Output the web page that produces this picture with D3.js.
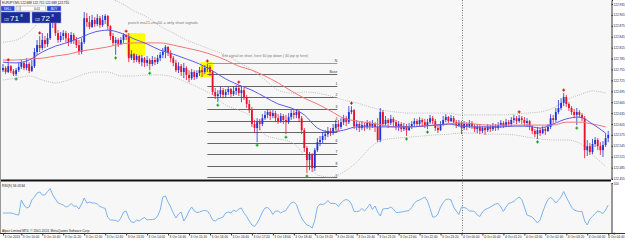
<!DOCTYPE html>
<html><head><meta charset="utf-8">
<script src="https://cdn.jsdelivr.net/npm/d3@7"></script>
<style>
body{margin:0;background:#fff}
svg{display:block;font-family:"Liberation Sans",Arial,sans-serif}
</style></head><body>
<div id="chart"></div>
<script>
// EURJPY M5 bars (one value per bar)
const opens = [122.753,122.759,122.748,122.764,122.751,122.742,122.753,122.762,122.773,122.759,
122.770,122.751,122.764,122.803,122.822,122.814,122.836,122.825,122.841,122.885,
122.891,122.855,122.836,122.847,122.855,122.841,122.830,122.850,122.836,122.822,
122.803,122.830,122.896,122.885,122.872,122.891,122.880,122.896,122.877,122.891,
122.902,122.874,122.847,122.828,122.836,122.825,122.836,122.850,122.844,122.786,
122.797,122.781,122.792,122.775,122.786,122.773,122.781,122.770,122.781,122.775,
122.786,122.795,122.803,122.817,122.800,122.786,122.773,122.753,122.764,122.748,
122.759,122.740,122.731,122.748,122.734,122.745,122.753,122.748,122.759,122.762,
122.748,122.693,122.682,122.687,122.698,122.685,122.693,122.701,122.687,122.696,
122.704,122.690,122.698,122.679,122.660,122.643,122.605,122.594,122.610,122.605,
122.621,122.630,122.638,122.627,122.635,122.621,122.613,122.627,122.616,122.610,
122.624,122.635,122.630,122.638,122.621,122.588,122.539,122.506,122.520,122.484,
122.533,122.555,122.561,122.572,122.577,122.586,122.580,122.594,122.605,122.597,
122.610,122.621,122.610,122.638,122.643,122.599,122.605,122.594,122.602,122.597,
122.608,122.599,122.605,122.597,122.561,122.638,122.605,122.616,122.608,122.619,
122.610,122.597,122.605,122.591,122.599,122.588,122.597,122.605,122.613,122.605,
122.616,122.610,122.602,122.610,122.621,122.613,122.594,122.588,122.605,122.616,
122.624,122.613,122.621,122.610,122.602,122.608,122.594,122.605,122.599,122.608,
122.599,122.591,122.597,122.586,122.594,122.588,122.597,122.591,122.599,122.594,
122.602,122.608,122.599,122.610,122.605,122.616,122.621,122.613,122.621,122.616,
122.608,122.613,122.597,122.586,122.577,122.588,122.580,122.591,122.586,122.597,
122.621,122.616,122.638,122.649,122.663,122.679,122.660,122.649,122.638,122.630,
122.638,122.630,122.621,122.533,122.544,122.528,122.550,122.561,122.544,122.533,
122.547,122.566];
const highs = [122.770,122.764,122.773,122.767,122.756,122.759,122.775,122.781,122.778,122.786,
122.775,122.781,122.814,122.836,122.847,122.855,122.847,122.855,122.905,122.907,
122.896,122.863,122.858,122.863,122.861,122.855,122.858,122.855,122.844,122.836,
122.841,122.913,122.910,122.902,122.905,122.899,122.907,122.902,122.905,122.907,
122.905,122.877,122.855,122.844,122.841,122.844,122.855,122.852,122.855,122.808,
122.800,122.797,122.795,122.795,122.789,122.792,122.786,122.792,122.789,122.795,
122.803,122.814,122.822,122.819,122.808,122.792,122.781,122.775,122.770,122.773,
122.764,122.753,122.756,122.753,122.753,122.762,122.764,122.767,122.770,122.767,
122.753,122.704,122.698,122.707,122.704,122.701,122.707,122.704,122.709,122.712,
122.712,122.709,122.704,122.685,122.671,122.652,122.616,122.621,122.619,122.632,
122.641,122.646,122.643,122.643,122.641,122.632,122.635,122.632,122.630,122.635,
122.643,122.643,122.646,122.643,122.627,122.594,122.544,122.528,122.525,122.539,
122.566,122.572,122.583,122.588,122.597,122.594,122.605,122.616,122.616,122.621,
122.630,122.627,122.654,122.654,122.646,122.616,122.610,122.613,122.608,122.616,
122.613,122.616,122.610,122.621,122.649,122.643,122.627,122.621,122.630,122.624,
122.616,122.613,122.610,122.608,122.605,122.608,122.613,122.621,122.619,122.624,
122.621,122.619,122.619,122.630,122.627,122.619,122.602,122.613,122.627,122.632,
122.627,122.630,122.627,122.616,122.616,122.613,122.613,122.610,122.616,122.613,
122.605,122.605,122.602,122.599,122.599,122.605,122.602,122.608,122.605,122.610,
122.616,122.613,122.619,122.616,122.624,122.630,122.627,122.630,122.627,122.624,
122.621,122.616,122.602,122.591,122.597,122.594,122.599,122.597,122.605,122.632,
122.630,122.649,122.671,122.676,122.690,122.685,122.665,122.654,122.646,122.649,
122.643,122.635,122.627,122.561,122.553,122.564,122.569,122.566,122.555,122.558,
122.580,122.586];
const lows = [122.748,122.742,122.745,122.745,122.737,122.737,122.748,122.756,122.753,122.753,
122.745,122.748,122.759,122.795,122.803,122.808,122.814,122.817,122.836,122.869,
122.847,122.828,122.830,122.836,122.830,122.819,122.825,122.825,122.814,122.795,
122.797,122.825,122.872,122.866,122.869,122.872,122.874,122.869,122.872,122.880,
122.863,122.836,122.822,122.795,122.817,122.822,122.828,122.836,122.775,122.781,
122.773,122.775,122.770,122.764,122.762,122.764,122.753,122.764,122.767,122.770,
122.778,122.786,122.786,122.792,122.775,122.764,122.748,122.745,122.737,122.731,
122.726,122.720,122.726,122.726,122.729,122.737,122.734,122.742,122.748,122.737,
122.685,122.674,122.665,122.679,122.676,122.679,122.685,122.679,122.682,122.685,
122.682,122.665,122.671,122.649,122.635,122.597,122.580,122.555,122.588,122.599,
122.616,122.621,122.616,122.621,122.610,122.605,122.608,122.605,122.577,122.605,
122.616,122.619,122.621,122.610,122.577,122.528,122.470,122.478,122.473,122.476,
122.528,122.544,122.553,122.561,122.569,122.572,122.575,122.588,122.586,122.591,
122.602,122.599,122.605,122.632,122.591,122.588,122.583,122.588,122.586,122.591,
122.588,122.594,122.583,122.555,122.555,122.597,122.599,122.594,122.602,122.599,
122.588,122.586,122.583,122.586,122.572,122.586,122.591,122.599,122.597,122.599,
122.597,122.594,122.591,122.605,122.605,122.586,122.580,122.586,122.599,122.610,
122.608,122.610,122.605,122.594,122.597,122.577,122.588,122.588,122.594,122.591,
122.583,122.580,122.577,122.580,122.575,122.583,122.583,122.586,122.586,122.588,
122.594,122.594,122.597,122.597,122.599,122.608,122.605,122.608,122.605,122.599,
122.597,122.588,122.577,122.569,122.564,122.572,122.577,122.575,122.583,122.591,
122.605,122.610,122.632,122.643,122.654,122.652,122.641,122.630,122.621,122.602,
122.621,122.613,122.511,122.517,122.520,122.522,122.542,122.533,122.520,122.514,
122.542,122.555];
const closes = [122.759,122.748,122.764,122.751,122.742,122.753,122.762,122.773,122.759,122.770,
122.751,122.764,122.803,122.822,122.814,122.836,122.825,122.841,122.885,122.891,
122.855,122.836,122.847,122.855,122.841,122.830,122.850,122.836,122.822,122.803,
122.830,122.896,122.885,122.872,122.891,122.880,122.896,122.877,122.891,122.902,
122.874,122.847,122.828,122.836,122.825,122.836,122.850,122.844,122.786,122.797,
122.781,122.792,122.775,122.786,122.773,122.781,122.770,122.781,122.775,122.786,
122.795,122.803,122.817,122.800,122.786,122.773,122.753,122.764,122.748,122.759,
122.740,122.731,122.748,122.734,122.745,122.753,122.748,122.759,122.762,122.748,
122.693,122.682,122.687,122.698,122.685,122.693,122.701,122.687,122.696,122.704,
122.690,122.698,122.679,122.660,122.643,122.605,122.594,122.610,122.605,122.621,
122.630,122.638,122.627,122.635,122.621,122.613,122.627,122.616,122.610,122.624,
122.635,122.630,122.638,122.621,122.588,122.539,122.506,122.520,122.484,122.533,
122.555,122.561,122.572,122.577,122.586,122.580,122.594,122.605,122.597,122.610,
122.621,122.610,122.638,122.643,122.599,122.605,122.594,122.602,122.597,122.608,
122.599,122.605,122.597,122.561,122.638,122.605,122.616,122.608,122.619,122.610,
122.597,122.605,122.591,122.599,122.588,122.597,122.605,122.613,122.605,122.616,
122.610,122.602,122.610,122.621,122.613,122.594,122.588,122.605,122.616,122.624,
122.613,122.621,122.610,122.602,122.608,122.594,122.605,122.599,122.608,122.599,
122.591,122.597,122.586,122.594,122.588,122.597,122.591,122.599,122.594,122.602,
122.608,122.599,122.610,122.605,122.616,122.621,122.613,122.621,122.616,122.608,
122.613,122.597,122.586,122.577,122.588,122.580,122.591,122.586,122.597,122.621,
122.616,122.638,122.649,122.663,122.679,122.660,122.649,122.638,122.630,122.638,
122.630,122.621,122.533,122.544,122.528,122.550,122.561,122.544,122.533,122.547,
122.566,122.575];

// indicator lines, one reading every 5 bars
const maStep = 5;
const maFast = [122.775,122.773,122.781,122.803,122.819,122.830,122.844,122.858,122.863,122.855,
122.839,122.825,122.808,122.797,122.784,122.770,122.751,122.729,122.712,122.698,
122.679,122.660,122.649,122.630,122.594,122.583,122.588,122.597,122.597,122.597,
122.597,122.597,122.599,122.602,122.605,122.599,122.597,122.597,122.597,122.599,
122.599,122.594,122.605,122.619,122.624,122.605,122.580];
const maSlow = [122.781,122.781,122.784,122.786,122.792,122.797,122.806,122.811,122.817,122.825,
122.828,122.828,122.828,122.822,122.814,122.806,122.795,122.781,122.764,122.753,
122.737,122.718,122.696,122.676,122.660,122.641,122.621,122.613,122.608,122.602,
122.597,122.597,122.599,122.602,122.605,122.608,122.605,122.602,122.602,122.602,
122.602,122.602,122.602,122.610,122.610,122.605,122.597];
const bandUpper = [122.830,122.836,122.858,122.896,122.929,122.946,122.954,122.957,122.952,122.938,
122.916,122.899,122.874,122.855,122.836,122.822,122.808,122.795,122.775,122.753,
122.726,122.698,122.690,122.693,122.690,122.682,122.671,122.663,122.652,122.643,
122.638,122.635,122.635,122.635,122.635,122.630,122.630,122.630,122.630,122.632,
122.635,122.638,122.649,122.671,122.685,122.696,122.690];
const bandLower = [122.726,122.731,122.737,122.726,122.718,122.726,122.740,122.748,122.748,122.737,
122.737,122.740,122.740,122.734,122.720,122.704,122.685,122.657,122.643,122.624,
122.575,122.564,122.555,122.520,122.465,122.459,122.473,122.500,122.539,122.561,
122.566,122.569,122.572,122.575,122.577,122.580,122.580,122.577,122.577,122.575,
122.569,122.564,122.561,122.561,122.553,122.520,122.489];

// RSI(9), one value per bar
const rsi = [40,40,40,40,39,37,36,66,56,50, 52,66,72,80,82,76,76,83,89,76,
68,60,58,56,52,54,59,54,54,48, 58,70,60,62,60,60,58,53,51,49,
31,26,26,25,23,30,42,44,30,22, 21,26,24,28,31,26,27,27,28,34,
46,72,74,62,52,40,30,38,42,24, 32,44,52,44,41,42,44,45,44,37,
26,24,28,30,32,40,42,40,46,43, 48,50,40,33,24,16,13,20,30,42,
50,51,46,37,44,44,40,43,45,54, 60,62,57,42,30,22,16,14,10,25,
52,58,57,59,65,59,59,59,53,60, 65,67,65,58,43,43,44,49,44,50,
58,47,54,42,34,48,49,49,52,48, 41,41,42,43,44,45,51,60,64,66,
69,72,64,49,32,32,38,52,61,67, 68,66,52,44,37,52,51,49,44,44,
43,36,33,42,47,49,52,55,58,59, 52,43,52,59,61,63,68,72,67,52,
36,34,32,26,20,26,42,56,67,71, 67,60,66,72,83,72,62,52,46,44,
43,43,24,16,28,33,39,44,42,39, 46,56];

const sellSignals = [2, 14, 47, 78, 90, 133, 197, 214];
const buySignals = [5, 43, 56, 82, 97, 108, 116, 154, 162, 204, 219];

const priceTicks = [122.935,122.905,122.875,122.845,122.815,122.785,122.755,122.725,122.695,
122.665,122.635,122.605,122.575,122.545,122.515,122.485,122.455];
const timeTickBars = [0,7,15,23,31,39,47,55,63,71,79,87,95,103,111,119,127,135,143,151,159,167,175,183,191,199,207,215,223,231];
const timeLabels = ["3 Oct 2013","3 Oct 10:00","3 Oct 10:40","3 Oct 11:20","3 Oct 12:00","3 Oct 12:40",
"3 Oct 13:20","3 Oct 14:00","3 Oct 14:40","3 Oct 15:20","3 Oct 16:00","3 Oct 16:40","3 Oct 17:20",
"3 Oct 18:00","3 Oct 18:40","3 Oct 19:20","3 Oct 20:00","3 Oct 20:40","3 Oct 21:20","3 Oct 22:00",
"3 Oct 22:40","3 Oct 23:20","4 Oct 00:00","4 Oct 00:40","4 Oct 01:20","4 Oct 02:00","4 Oct 02:40",
"4 Oct 03:20","4 Oct 04:00","4 Oct 04:40"];
const daySeparators = [175];

// drawn objects
const boxes = [{from: 47.2, to: 54.2, top: 122.855, bottom: 122.793},
               {from: 75.2, to: 80.2, top: 122.775, bottom: 122.734}];
const fibFrom = 78, fibTo = 127.6;
const fibLevels = [122.774,122.742,122.710,122.679,122.647,122.614,122.583,122.552,122.522,122.490,122.458];
const fibNames = ["N","Base","1","2","3","4","5","6","7","8","9"];
const notes = [{bar: 47.7, price: 122.880, text: "punch ma21+ma50 = only short signals", size: 4},
               {bar: 83.6, price: 122.790, text: "first signal on short, here 60 pip down ( 40 pip tp here)", size: 3.6}];

const W = 625, H = 240;
const plotR = 611, mainB = 179, rsiT = 182, rsiB = 233;

const x = d3.scaleLinear().domain([0, 231]).range([3, 3 + 2.62 * 231]);
const y = d3.scaleLinear().domain([122.946, 122.946 - 0.00275 * mainB]).range([0, mainB]);
const yr = d3.scaleLinear().domain([0, 100]).range([rsiB, rsiT + 1]);

const svg = d3.select("#chart").append("svg").attr("width", W).attr("height", H);

svg.append("rect").attr("width", W).attr("height", H).attr("fill", "#fff");
svg.append("rect").attr("x", 0).attr("y", 0).attr("width", plotR).attr("height", mainB).attr("fill", "#f7f7f7");
svg.append("rect").attr("x", 0).attr("y", rsiT).attr("width", plotR).attr("height", rsiB - rsiT).attr("fill", "#f7f7f7");

const defs = svg.append("defs");
defs.append("clipPath").attr("id", "mainClip").append("rect").attr("width", plotR).attr("height", mainB);
defs.append("clipPath").attr("id", "rsiClip").append("rect").attr("y", rsiT).attr("width", plotR).attr("height", rsiB - rsiT);

const main = svg.append("g").attr("clip-path", "url(#mainClip)");

// yellow boxes (background objects)
main.selectAll(".box").data(boxes).enter().append("rect")
  .attr("x", d => x(d.from)).attr("width", d => x(d.to) - x(d.from))
  .attr("y", d => y(d.top)).attr("height", d => y(d.bottom) - y(d.top))
  .attr("fill", "#ffff00");

// fibo grid
main.selectAll(".fib").data(fibLevels).enter().append("line")
  .attr("x1", x(fibFrom)).attr("x2", x(fibTo))
  .attr("y1", d => Math.round(y(d)) + 0.5).attr("y2", d => Math.round(y(d)) + 0.5)
  .attr("stroke", (d, i) => i == 0 ? "#999" : "#666").attr("stroke-width", 1);
main.selectAll(".fibtxt").data(fibLevels).enter().append("text")
  .attr("x", x(fibTo)).attr("y", d => y(d) - 0.8)
  .attr("text-anchor", "end").attr("font-size", 3.4).attr("fill", "#333")
  .text((d, i) => fibNames[i]);

// day separator
svg.selectAll(".sep").data(daySeparators).enter().append("line")
  .attr("x1", d => Math.round(x(d)) + 0.5).attr("x2", d => Math.round(x(d)) + 0.5)
  .attr("y1", 0).attr("y2", rsiB)
  .attr("stroke", "#777").attr("stroke-dasharray", "1,1.5");

// bollinger bands
const bandLine = d3.line().x((d, k) => x(k * maStep)).y(d => y(d)).curve(d3.curveMonotoneX);
[bandUpper, bandLower].forEach(b => {
  main.append("path").datum(b).attr("d", bandLine)
    .attr("fill", "none").attr("stroke", "#b5b5b5").attr("stroke-width", 0.9).attr("stroke-dasharray", "1,1.2");
});

// candles
const bull = "#1e34d6", bear = "#e6102a";
const idx = d3.range(closes.length);
const cg = main.append("g");
cg.selectAll(".wick").data(idx).enter().append("line")
  .attr("x1", i => x(i)).attr("x2", i => x(i))
  .attr("y1", i => y(highs[i])).attr("y2", i => y(lows[i]))
  .attr("stroke", i => closes[i] >= opens[i] ? bull : bear).attr("stroke-width", 0.8);
cg.selectAll(".body").data(idx).enter().append("rect")
  .attr("x", i => x(i) - 0.9).attr("width", 1.8)
  .attr("y", i => y(Math.max(opens[i], closes[i])))
  .attr("height", i => Math.max(0.7, Math.abs(y(opens[i]) - y(closes[i]))))
  .attr("fill", i => closes[i] >= opens[i] ? bull : bear);

// moving averages
main.append("path").datum(maSlow).attr("d", bandLine)
  .attr("fill", "none").attr("stroke", "#f27676").attr("stroke-width", 1);
main.append("path").datum(maFast).attr("d", bandLine)
  .attr("fill", "none").attr("stroke", "#5c5ce8").attr("stroke-width", 1);

// signal arrows
const cross = (g, cx, cy, col) => {
  g.append("path").attr("d", `M${cx - 1.5},${cy}H${cx + 1.5}M${cx},${cy - 1.5}V${cy + 1.5}`)
    .attr("stroke", col).attr("stroke-width", 1);
};
sellSignals.forEach(i => cross(main, x(i), y(highs[i]) - 3, "#e00000"));
buySignals.forEach(i => cross(main, x(i), y(lows[i]) + 3, "#139a13"));

// notes
main.selectAll(".note").data(notes).enter().append("text")
  .attr("x", d => x(d.bar)).attr("y", d => y(d.price))
  .attr("font-size", d => d.size).attr("fill", "#777").text(d => d.text);

// RSI
const rsiLine = d3.line().x((d, i) => x(i)).y(d => yr(d));
svg.append("g").attr("clip-path", "url(#rsiClip)").append("path").datum(rsi).attr("d", rsiLine)
  .attr("fill", "none").attr("stroke", "#7cb3ee").attr("stroke-width", 1);

// frames
svg.append("line").attr("x1", 0).attr("x2", plotR).attr("y1", 180.5).attr("y2", 180.5).attr("stroke", "#111").attr("stroke-width", 2);
svg.append("line").attr("x1", 0.5).attr("x2", 0.5).attr("y1", 0).attr("y2", rsiB).attr("stroke", "#999");
svg.append("line").attr("x1", 0).attr("x2", W).attr("y1", rsiB + 0.5).attr("y2", rsiB + 0.5).attr("stroke", "#333");

// price axis (labels squeezed into the narrow strip right of the plot)
const yAxis = d3.axisRight(y).tickValues(priceTicks).tickSize(1.5).tickPadding(0.5).tickFormat(d3.format(".3f"));
const ya = svg.append("g").attr("transform", `translate(${plotR + 0.5},0)`).call(yAxis);
ya.selectAll("text").attr("font-size", 3.1).attr("fill", "#222");
ya.selectAll("line,path").attr("stroke", "#333");

const rAxis = d3.axisRight(yr).tickValues([0, 100]).tickSize(1.5).tickPadding(0.5).tickFormat(d3.format("d"));
const ra = svg.append("g").attr("transform", `translate(${plotR + 0.5},0)`).call(rAxis);
ra.selectAll("text").attr("font-size", 3.1).attr("fill", "#222");
ra.selectAll("line,path").attr("stroke", "#333");

// time axis
const xAxis = d3.axisBottom(x).tickValues(timeTickBars).tickSize(2).tickFormat((d, i) => timeLabels[i]);
const xa = svg.append("g").attr("transform", `translate(0,${rsiB + 0.5})`).call(xAxis);
xa.select(".domain").remove();
xa.selectAll("line").attr("stroke", "#333");
xa.selectAll("text").attr("font-size", 3.2).attr("fill", "#222").attr("text-anchor", "start").attr("dx", 1).attr("dy", -0.2);
// last label would run off the page: end it at the right edge
xa.selectAll(".tick").filter((d, i) => i == timeTickBars.length - 1).select("text")
  .attr("text-anchor", "end").attr("x", W - 1 - x(timeTickBars[timeTickBars.length - 1])).attr("dx", 0);

// captions
svg.append("text").attr("x", 2).attr("y", 4.3).attr("font-size", 3.2).attr("fill", "#222")
  .text("EURJPY,M5  122.688 122.715 122.688 122.710");
svg.append("text").attr("x", 2).attr("y", rsiT + 4.5).attr("font-size", 3.4).attr("fill", "#222")
  .text("RSI(9) 56.0534");
svg.append("text").attr("x", 2).attr("y", rsiB - 1.2).attr("font-size", 3.2).attr("fill", "#222")
  .text("Alpari Limited MT4, © 2001-2013, MetaQuotes Software Corp.");

// one click trading panel
const p = svg.append("g").attr("transform", "translate(1,6)");
p.append("rect").attr("width", 13.5).attr("height", 5).attr("fill", "#2a48cf").attr("stroke", "#a9b8ee").attr("stroke-width", 0.5);
p.append("text").attr("x", 6.75).attr("y", 3.7).attr("text-anchor", "middle").attr("font-size", 3.2).attr("fill", "#fff").text("SELL");
p.append("rect").attr("x", 15).attr("width", 4).attr("height", 5).attr("fill", "#e8e8e8").attr("stroke", "#999").attr("stroke-width", 0.5);
p.append("rect").attr("x", 19.5).attr("width", 25).attr("height", 5).attr("fill", "#fff").attr("stroke", "#999").attr("stroke-width", 0.5);
p.append("text").attr("x", 36).attr("y", 3.7).attr("text-anchor", "middle").attr("font-size", 3.2).attr("fill", "#222").text("0.01");
p.append("rect").attr("x", 46).attr("width", 14).attr("height", 5).attr("fill", "#2a48cf").attr("stroke", "#a9b8ee").attr("stroke-width", 0.5);
p.append("text").attr("x", 53).attr("y", 3.7).attr("text-anchor", "middle").attr("font-size", 3.2).attr("fill", "#fff").text("BUY");
[["122", "71", "8", 0], ["122", "72", "8", 31]].forEach(q => {
  const g = p.append("g").attr("transform", `translate(${q[3]},6)`);
  g.append("rect").attr("width", 29).attr("height", 11).attr("fill", "#1c2c96").attr("stroke", "#8c9be0").attr("stroke-width", 0.5);
  g.append("text").attr("x", 3).attr("y", 8.5).attr("font-size", 3).attr("fill", "#fff").text(q[0]);
  g.append("text").attr("x", 9).attr("y", 9).attr("font-size", 8).attr("fill", "#fff").text(q[1]);
  g.append("text").attr("x", 19.5).attr("y", 5).attr("font-size", 4).attr("fill", "#fff").text(q[2]);
});
</script>
</body></html>
